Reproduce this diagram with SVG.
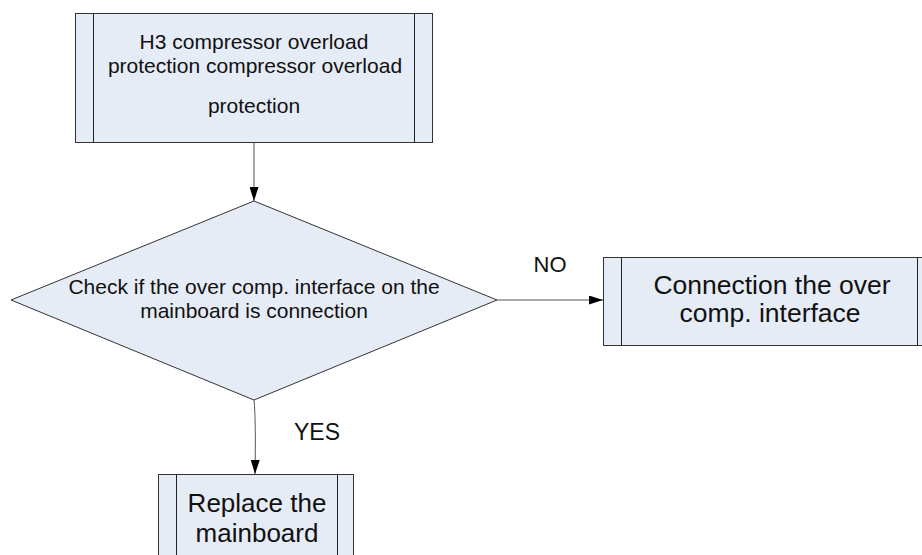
<svg xmlns="http://www.w3.org/2000/svg" width="922" height="555" viewBox="0 0 922 555">
<style>
.box{fill:#E6ECF6;stroke:#333;stroke-width:1}
.in{stroke:#222;stroke-width:1}
.t{font-family:"Liberation Sans",Arial,sans-serif;fill:#111;text-anchor:middle}
.c{stroke:#555;stroke-width:1;fill:none}
</style>
<defs>
<marker id="ah" markerWidth="14" markerHeight="9" refX="14" refY="4.5" orient="auto" markerUnits="userSpaceOnUse" viewBox="0 0 14 9">
<path d="M0,0 L14,4.5 L0,9 Z" fill="#000"/>
</marker>
</defs>
<rect width="922" height="555" fill="#fff"/>
<g id="connectors">
<path class="c" d="M254,142 L254,201" marker-end="url(#ah)"/>
<path class="c" d="M497,300 L603,300" marker-end="url(#ah)"/>
<path class="c" d="M254,400 Q256,420 255,474" marker-end="url(#ah)"/>
<text class="t" x="550" y="272" font-size="22">NO</text>
<text class="t" x="317" y="440" font-size="23">YES</text>
</g>
<g id="n1">
<rect class="box" x="75.5" y="13.5" width="357" height="129"/>
<line class="in" x1="93.5" y1="13.5" x2="93.5" y2="142.5"/>
<line class="in" x1="414.5" y1="13.5" x2="414.5" y2="142.5"/>
<text class="t" x="254" y="49" font-size="21">H3 compressor overload</text>
<text class="t" x="255" y="73" font-size="21">protection compressor overload</text>
<text class="t" x="254" y="113" font-size="21">protection</text>
</g>
<g id="n2">
<polygon class="box" points="254,201 497,300 254,400 11,300"/>
<text class="t" x="254" y="294" font-size="21">Check if the over comp. interface on the</text>
<text class="t" x="254" y="318" font-size="21">mainboard is connection</text>
</g>
<g id="n3">
<rect class="box" x="603.5" y="257.5" width="332" height="88"/>
<line class="in" x1="621.5" y1="257.5" x2="621.5" y2="345.5"/>
<line class="in" x1="917.5" y1="257.5" x2="917.5" y2="345.5"/>
<text class="t" x="772" y="294" font-size="26.5">Connection the over</text>
<text class="t" x="770" y="322" font-size="26.5">comp. interface</text>
</g>
<g id="n4">
<rect class="box" x="158.5" y="474.5" width="195" height="100"/>
<line class="in" x1="176.5" y1="474.5" x2="176.5" y2="574.5"/>
<line class="in" x1="337.5" y1="474.5" x2="337.5" y2="574.5"/>
<text class="t" x="257" y="512" font-size="26">Replace the</text>
<text class="t" x="257" y="542" font-size="26">mainboard</text>
</g>
</svg>
